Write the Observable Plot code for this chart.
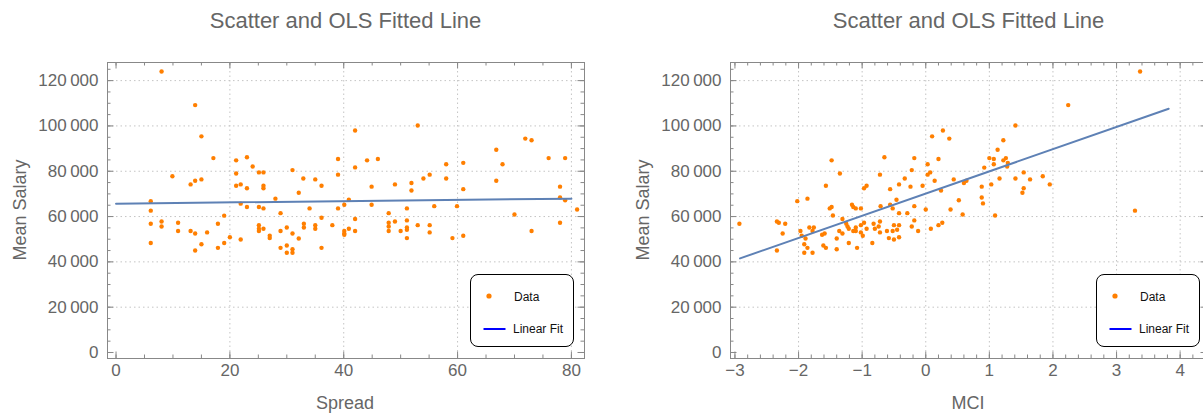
<!DOCTYPE html>
<html><head><meta charset="utf-8">
<script src="https://cdn.jsdelivr.net/npm/d3@7"></script>
<script src="https://cdn.jsdelivr.net/npm/@observablehq/plot@0.6"></script>
<style>
body{margin:0;width:1203px;height:415px;overflow:hidden;background:#fff;font-family:"Liberation Sans",Arial,sans-serif;position:relative}
.abs{position:absolute}
.title{font-size:22px;color:#666;text-align:center;top:8px;white-space:nowrap;width:477px}
.ylab{font-size:18px;color:#666;transform:translate(-50%,-50%) rotate(-90deg);white-space:nowrap}
.xlab{font-size:18px;color:#666;transform:translate(-50%,-50%);white-space:nowrap}
.legend{border:1px solid #000;border-radius:8px;background:#fff;width:104px;height:73px;box-sizing:border-box}
.legend svg{position:absolute;left:0;top:0}
</style></head><body>
<script>
// ---- data ----
const spreadX = [8.0,13.9,15.0,17.1,9.9,13.1,13.9,15.0,6.1,6.1,21.1,21.1,23.0,24.0,25.1,25.9,21.1,21.9,23.0,25.9,25.9,28.0,31.0,32.1,32.9,35.0,36.1,39.0,39.0,21.9,23.0,25.1,25.9,34.0,39.0,40.1,40.9,42.0,42.0,44.1,46.0,53.0,44.9,49.0,51.9,51.9,54.0,55.1,58.0,58.0,61.0,61.0,66.8,67.9,66.8,71.9,73.0,76.0,78.9,78.0,78.0,78.9,81.0,44.9,51.1,55.9,59.9,6.1,6.1,8.0,8.0,10.9,10.9,13.1,13.9,13.9,15.0,16.0,17.9,17.9,19.0,19.0,20.0,21.9,25.1,25.1,25.1,25.9,27.0,27.0,28.9,28.9,28.9,30.0,30.0,30.0,31.0,31.0,31.0,32.1,33.0,33.0,35.0,35.0,36.1,36.1,38.0,40.1,40.1,40.1,40.9,42.0,42.0,47.9,47.9,47.9,47.9,49.0,50.0,51.1,51.1,51.1,51.1,53.0,55.1,55.1,59.1,61.0,70.0,73.0,78.0];
const spreadY = [124000,109200,95400,85800,77800,74200,75800,76400,66800,62600,84800,79000,86200,82100,79500,79500,73600,74200,72500,73600,72500,67900,80500,70500,76800,76400,73600,85400,78500,65700,64200,64200,63600,63600,63600,65200,67400,98000,81700,84800,85400,100200,73200,74200,74800,71500,76800,78500,83100,76800,83700,72100,89500,83100,75800,94400,93700,85800,85800,73200,68400,67200,63100,65200,63600,64600,64600,56800,48300,57800,55600,57300,53600,53600,52500,45000,47800,53000,56800,46200,60400,48300,50900,49900,56200,54600,53600,54600,51500,50500,61500,53600,46200,55200,47200,44000,52500,45600,44000,50300,56800,55200,56200,54600,59500,46200,56200,53600,52500,52000,54600,58900,53600,61500,57300,55600,53600,57800,53600,58300,55200,54200,50500,56200,56200,53000,50500,51500,60900,53600,57300];
const mciX = [-2.02,-1.86,-1.57,-1.48,-1.35,-1.51,-1.48,-1.16,-1.14,-1.10,-1.02,-0.97,-0.93,-0.72,-0.65,-0.71,-0.56,-0.56,-0.52,-0.46,-0.42,-0.33,-0.24,-0.22,-0.18,-0.18,-0.05,0.00,0.03,0.03,0.07,0.10,0.14,0.20,0.24,0.27,0.37,0.44,0.60,0.64,0.52,0.39,3.37,2.24,1.41,1.22,1.13,1.00,1.07,1.07,1.22,1.26,1.29,1.28,0.92,1.16,1.41,1.54,1.64,1.84,1.95,1.54,1.52,0.88,1.03,0.88,0.90,3.29,0.58,1.09,-2.93,-2.34,-2.31,-2.21,-2.25,-2.34,-1.97,-1.95,-1.89,-1.91,-1.91,-1.86,-1.78,-1.83,-1.76,-1.78,-1.63,-1.59,-1.61,-1.57,-1.46,-1.40,-1.40,-1.36,-1.31,-1.31,-1.25,-1.23,-1.21,-1.21,-1.14,-1.10,-1.10,-1.08,-1.02,-1.02,-0.99,-0.97,-0.93,-0.84,-0.82,-0.80,-0.74,-0.72,-0.72,-0.61,-0.58,-0.52,-0.50,-0.50,-0.45,-0.42,-0.42,-0.42,-0.29,-0.22,-0.18,-0.12,0.08,0.20,0.26];
const mciY = [66800,67900,73600,84800,79000,63600,64200,65200,64200,63600,63600,72500,73600,78500,86200,64600,72100,65200,63600,67400,74200,76800,73200,80500,85800,64600,73600,63100,83100,78500,79500,95400,75800,85400,71500,98000,94400,76400,74800,75800,67200,63100,124000,109200,100200,93700,89500,85800,85400,83100,84800,85800,83700,82100,81600,76800,76800,79500,76400,77800,74200,72500,70500,73200,74200,68400,65800,62600,60900,60500,56800,57800,57300,56800,52500,45000,53600,51500,50300,47800,44000,46200,44000,55200,55200,53600,52000,52500,47200,46200,60500,50300,45600,53600,58900,52500,56800,55600,54600,48300,53600,55200,53600,46200,56200,53000,51500,57300,54600,48300,56800,54600,55600,57800,53000,53600,50500,53600,56200,49900,54200,61500,56200,50900,61500,55600,58300,53600,54600,56200,57300];
// OLS fits: intercept, slope, plotted x-range
const fitSpread = {a: 65700, b: 27.5, range: [0, 80]};
const fitMci = {a: 70150, b: 9800, range: [-2.92, 3.82]};
// ticks
const spreadTicks = [0, 20, 40, 60, 80];
const mciTicks = [-3, -2, -1, 0, 1, 2, 3, 4];
const salaryTicks = [0, 20000, 40000, 60000, 80000, 100000, 120000];

const fmt = v => d3.format(",")(v).replace(/,/g, "\u2009");
const H = 375, MT = 22, MB = 57;

function panel(o) {
  const fh = H - MT - MB;
  const fw = o.width - o.marginLeft - o.marginRight;
  const pts = o.xs.map((x, i) => ({x, y: o.ys[i]}));
  const fit = o.fit.range.map(x => ({x, y: o.fit.a + o.fit.b * x}));
  const tick = {stroke: "#888", strokeWidth: 1};
  const grid = {stroke: "#c4c4c4", strokeOpacity: 1, strokeDasharray: "1.5,3"};
  const yGrid = salaryTicks.filter(v => v > 0);
  const yMinor = d3.range(0, 125001, 5000);
  return Plot.plot({
    width: o.width, height: H, marginTop: MT, marginBottom: MB,
    marginLeft: o.marginLeft, marginRight: o.marginRight,
    x: {domain: o.xDomain}, y: {domain: [-2650, 128000]},
    style: {fontFamily: "'Liberation Sans', Arial, sans-serif", fontSize: "17px", color: "#666", background: "transparent", overflow: "visible"},
    marks: [
      Plot.gridX(o.xGrid, grid),
      Plot.gridY(yGrid, grid),
      Plot.ruleX(o.xMinor, {...tick, insetTop: fh - 3.5}),
      Plot.ruleX(o.xMinor, {...tick, insetBottom: fh - 3.5}),
      Plot.ruleX(o.xTicks, {...tick, insetTop: fh - 6.5}),
      Plot.ruleX(o.xTicks, {...tick, insetBottom: fh - 6.5}),
      Plot.ruleY(yMinor, {...tick, insetRight: fw - 3.5}),
      Plot.ruleY(yMinor, {...tick, insetLeft: fw - 3.5}),
      Plot.ruleY(salaryTicks, {...tick, insetRight: fw - 6.5}),
      Plot.ruleY(salaryTicks, {...tick, insetLeft: fw - 6.5}),
      Plot.frame({stroke: "#888"}),
      Plot.axisX(o.xTicks, {tickSize: 0, tickPadding: 5, label: null, fill: "#666", tickFormat: o.xFormat}),
      Plot.axisY(salaryTicks, {tickSize: 0, tickPadding: 9, label: null, fill: "#666", tickFormat: fmt}),
      Plot.dot(pts, {x: "x", y: "y", r: 2.2, fill: "#ff7f00", stroke: null}),
      Plot.line(fit, {x: "x", y: "y", stroke: "#5e81b5", strokeWidth: 2})
    ]
  });
}

function place(el, left, top) {
  el.classList.add("abs");
  el.style.left = left + "px"; el.style.top = top + "px";
  document.body.appendChild(el);
  return el;
}
function div(cls, text, left, top) {
  const d = document.createElement("div");
  d.className = cls; d.textContent = text;
  return place(d, left, top);
}
function legend(left, top) {
  const d = document.createElement("div");
  d.className = "legend";
  d.innerHTML = `<svg width="104" height="73" font-family="'Liberation Sans', Arial, sans-serif" font-size="12">
    <circle cx="18" cy="21" r="2.6" fill="#ff7f00"/>
    <text x="43" y="26" fill="#111">Data</text>
    <line x1="12.5" x2="34.5" y1="54" y2="54" stroke="#0000ff" stroke-width="2"/>
    <text x="42" y="58" fill="#111">Linear Fit</text></svg>`;
  return place(d, left, top);
}

const minus = v => (v < 0 ? "\u2212" + Math.abs(v) : String(v));

const left = panel({
  xs: spreadX, ys: spreadY, fit: fitSpread,
  width: 600, marginLeft: 107, marginRight: 16,
  xDomain: [-1.5, 82.3], xTicks: spreadTicks, xGrid: spreadTicks.filter(v => v > 0),
  xMinor: d3.range(0, 81, 5), xFormat: minus
});
place(left, 0, 40);
const right = panel({
  xs: mciX, ys: mciY, fit: fitMci,
  width: 600, marginLeft: 120, marginRight: 3,
  xDomain: [-3.07, 4.43], xTicks: mciTicks, xGrid: mciTicks.filter(v => v > -3),
  xMinor: d3.range(-15, 23).map(i => Math.round(i * 2) / 10), xFormat: minus
});
place(right, 610, 40);

div("title", "Scatter and OLS Fitted Line", 107, 8);
div("title", "Scatter and OLS Fitted Line", 730, 8);
div("ylab", "Mean Salary", 20, 210);
div("ylab", "Mean Salary", 643, 210);
div("xlab", "Spread", 345, 403);
div("xlab", "MCI", 968, 403);
legend(470, 274);
legend(1096, 274);
</script>
</body></html>
